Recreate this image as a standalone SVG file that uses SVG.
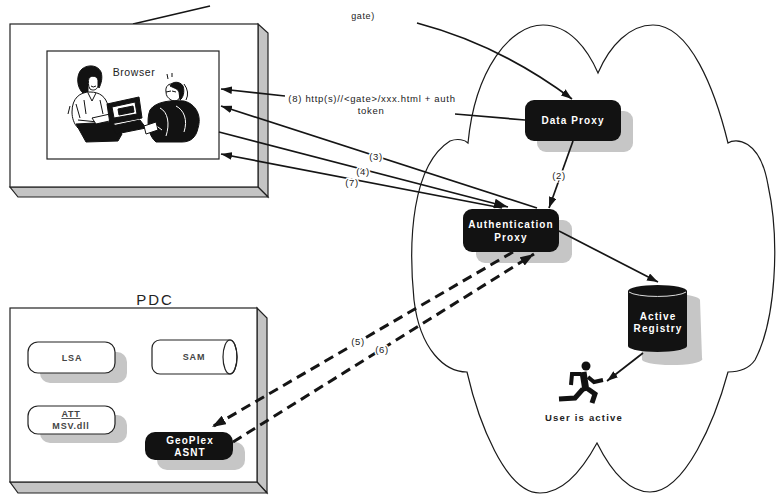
<svg xmlns="http://www.w3.org/2000/svg" width="776" height="497" viewBox="0 0 776 497">
  <defs>
    <style>
      .t { font-family: "Liberation Sans", Arial, sans-serif; fill: #222; }
      .lbl { font-size: 9.5px; letter-spacing: 0.7px; text-anchor: middle; stroke: #fff; stroke-width: 3px; paint-order: stroke; }
      .nodeTxt { font-size: 10px; font-weight: bold; fill: #fff; text-anchor: middle; letter-spacing: 1.1px; }
      .boxTxt { font-size: 9px; font-weight: bold; fill: #444; text-anchor: middle; letter-spacing: 0.8px; }
      .dark { fill: #121212; }
      .shadow { fill: #c6c6c6; }
      .face { fill: #fff; stroke: #222; stroke-width: 1.2; }
      .side { fill: #c4c4c4; stroke: #222; stroke-width: 1.2; }
      .conn { fill: none; stroke: #151515; stroke-width: 1.7; }
      .dash { fill: none; stroke: #151515; stroke-width: 3; stroke-dasharray: 10 6; }
    </style>
    <marker id="arrow" viewBox="0 0 10 7" refX="10" refY="3.5" markerWidth="11" markerHeight="8" markerUnits="userSpaceOnUse" orient="auto">
      <path d="M0,0 L10,3.5 L0,7 Z" fill="#151515"/>
    </marker>
    <marker id="arrowBig" viewBox="0 0 10 7" refX="10" refY="3.5" markerWidth="14" markerHeight="10" markerUnits="userSpaceOnUse" orient="auto">
      <path d="M0,0 L10,3.5 L0,7 Z" fill="#151515"/>
    </marker>
  </defs>

  <rect width="776" height="497" fill="#fff"/>

  <!-- network cloud -->
  <path id="cloud" fill="none" stroke="#1a1a1a" stroke-width="1.2"
        d="M468,143 C475,70 510,25 543,25 C570,25 588,50 598,73
           C610,45 630,25 653,25 C690,25 715,90 728,143
           C735,138 760,138 768,185 C780,240 776,320 755,360 C748,370 738,372 728,372
           C715,420 685,492 650,492 C625,492 608,465 597,443
           C585,465 565,493 540,493 C505,493 478,420 467,372
           C445,372 420,350 414,300 C408,240 412,165 450,141 C458,138 465,140 468,143 Z"/>

  <!-- client workstation -->
  <g id="client">
    <line x1="133" y1="24" x2="210" y2="6" stroke="#151515" stroke-width="1.6"/>
    <polygon class="side" points="258,24 268,33 268,197 258,187"/>
    <polygon class="side" points="10,187 258,187 268,197 18,197"/>
    <rect class="face" x="10" y="24" width="248" height="163"/>
    <rect class="face" x="47" y="51" width="172" height="108"/>
    <text class="t" x="134" y="76" font-size="10.5" text-anchor="middle" letter-spacing="0.6" fill="#333">Browser</text>
    <!-- two people at a computer -->
    <g id="browser-art" stroke="#111" stroke-width="1" stroke-linejoin="round">
      <!-- woman -->
      <path class="dark" d="M84,94 C76,88 76,74 82,69 C88,64 98,65 101,72 C103,78 101,84 99,88 L96,80 C93,76 89,76 88,80 L88,92 Z"/>
      <path fill="#fff" d="M89,78 C92,75 97,76 98,80 L98,86 C97,90 93,91 90,89 C88,86 88,81 89,78 Z"/>
      <path d="M91,86 Q93,88 96,86" fill="none"/>
      <path fill="#fff" d="M72,112 C72,98 80,92 90,92 C100,92 106,97 108,106 L112,124 L96,128 L78,128 C74,124 72,118 72,112 Z"/>
      <path d="M88,93 L92,101 L96,93" fill="none"/>
      <path d="M76,104 L80,118 M84,100 L86,114 M100,100 L103,114 M78,120 L98,122 M70,106 L68,114" fill="none"/>
      <path class="dark" d="M76,124 L112,122 L122,134 L118,141 L86,142 Z"/>
      <path fill="#fff" d="M92,118 L110,114 L114,120 L96,124 Z"/>
      <!-- monitor -->
      <polygon class="dark" points="107,104 139,97 142,118 110,124"/>
      <polygon fill="#fff" points="112,107 135,102 137,114 114,118"/>
      <polygon class="dark" points="118,109 133,106 134,112 119,115"/>
      <path class="dark" d="M112,126 L140,120 L146,128 L116,134 Z"/>
      <!-- man -->
      <path fill="#fff" d="M166,92 C165,86 169,83 174,84 C179,85 181,90 180,96 C179,101 175,102 171,100 C168,98 166,96 166,92 Z"/>
      <path class="dark" d="M170,86 C172,81 180,81 183,86 C185,92 183,98 180,100 L179,92 C178,89 174,88 170,86 Z"/>
      <path d="M166,92 L171,91 M172,91 L176,92" fill="none"/>
      <path d="M168,79 L167,74 M172,77 L172,73 M184,84 Q190,92 186,100" fill="none"/>
      <path class="dark" d="M150,110 C156,101 172,100 184,101 C196,104 202,116 198,128 C196,138 190,142 182,142 L156,142 C148,136 146,120 150,110 Z"/>
      <path d="M160,108 C168,112 170,124 166,136 M176,106 C184,110 188,120 184,132 M154,124 L162,130" fill="none" stroke="#fff" stroke-width="1"/>
      <path fill="#fff" d="M144,126 L156,122 L158,130 L146,134 Z"/>
    </g>
  </g>

  <!-- PDC server -->
  <g id="pdc">
    <text class="t" x="155" y="305" font-size="15" text-anchor="middle" letter-spacing="2" fill="#333">PDC</text>
    <polygon class="side" points="257,308 267,318 267,493 257,482"/>
    <polygon class="side" points="10,482 257,482 267,493 18,493"/>
    <rect class="face" x="10" y="308" width="247" height="174"/>
  </g>

  <g id="lsa">
    <rect class="shadow" x="40" y="352" width="87" height="31" rx="10"/>
    <rect class="face" x="28" y="342" width="87" height="31" rx="10"/>
    <text class="t boxTxt" x="72" y="361">LSA</text>
  </g>

  <g id="sam">
    <path class="face" d="M160,340 L230,340 A7,17 0 0 1 230,374 L160,374 A8,8 0 0 1 152,366 L152,348 A8,8 0 0 1 160,340 Z"/>
    <ellipse cx="230" cy="357" rx="7" ry="17" fill="none" stroke="#222" stroke-width="1.2"/>
    <text class="t boxTxt" x="194" y="360">SAM</text>
  </g>

  <g id="msv">
    <rect class="shadow" x="40" y="415" width="87" height="28" rx="10"/>
    <rect class="face" x="28" y="406" width="87" height="28" rx="10"/>
    <text class="t boxTxt" x="71" y="417" text-decoration="underline">ATT</text>
    <text class="t boxTxt" x="71" y="429">MSV.dll</text>
  </g>

  <g id="geoplex">
    <rect class="shadow" x="157" y="442" width="88" height="28" rx="10"/>
    <rect class="dark" x="145" y="432" width="88" height="28" rx="10"/>
    <text class="t nodeTxt" x="190" y="444">GeoPlex</text>
    <text class="t nodeTxt" x="190" y="456">ASNT</text>
  </g>

  <g id="data-proxy">
    <rect class="shadow" x="537" y="111" width="96" height="41" rx="9"/>
    <rect class="dark" x="525" y="100" width="96" height="41" rx="9"/>
    <text class="t nodeTxt" x="573" y="124">Data Proxy</text>
  </g>

  <g id="auth-proxy">
    <rect class="shadow" x="476" y="220" width="96" height="43" rx="9"/>
    <rect class="dark" x="463" y="209" width="96" height="43" rx="9"/>
    <text class="t nodeTxt" x="511" y="228">Authentication</text>
    <text class="t nodeTxt" x="511" y="241">Proxy</text>
  </g>

  <g id="active-registry">
    <path class="shadow" d="M640,300 A29.5,6 0 0 1 700,300 L702,358 A30,6 0 0 1 642,360 Z"/>
    <path class="dark" d="M628,291 A29.5,6 0 0 1 687,291 L687,346 A29.5,6 0 0 1 628,346 Z"/>
    <path d="M629,292 A29.5,6 0 0 0 686,292" fill="none" stroke="#ddd" stroke-width="1"/>
    <text class="t nodeTxt" x="658" y="320">Active</text>
    <text class="t nodeTxt" x="658" y="332">Registry</text>
  </g>

  <g id="user">
    <circle cx="586" cy="366" r="4.5" fill="#111"/>
    <g fill="none" stroke="#111" stroke-linejoin="miter">
      <line x1="583" y1="372" x2="586" y2="391" stroke-width="7"/>
      <polyline points="581,374 572,374 571,385" stroke-width="4"/>
      <polyline points="588,377 594,382 603,380" stroke-width="4"/>
      <polyline points="583,389 575,398 559,399" stroke-width="5"/>
      <polyline points="588,389 595,394 592,403" stroke-width="5"/>
    </g>
    <text class="t" x="584" y="421" font-size="9.5" font-weight="bold" text-anchor="middle" letter-spacing="1.2" fill="#444">User is active</text>
  </g>

  <!-- message flows -->
  <g id="connectors">
    <path class="conn" d="M417,23 Q500,45 572,99" marker-end="url(#arrow)"/>
    <line class="conn" x1="455" y1="114" x2="525" y2="120"/>
    <line class="conn" x1="285" y1="96" x2="221" y2="89" marker-end="url(#arrow)"/>
    <line class="conn" x1="537" y1="208" x2="221" y2="106" marker-end="url(#arrow)"/>
    <line class="conn" x1="219" y1="132" x2="508" y2="207" marker-end="url(#arrowBig)"/>
    <line class="conn" x1="502" y1="208" x2="221" y2="154" marker-end="url(#arrow)"/>
    <line class="conn" x1="573" y1="141" x2="549" y2="208" marker-end="url(#arrow)"/>
    <line class="conn" x1="559" y1="231" x2="658" y2="282" marker-end="url(#arrow)"/>
    <line class="conn" x1="643" y1="353" x2="607" y2="381" marker-end="url(#arrow)"/>
    <line class="dash" x1="513" y1="252" x2="212" y2="427" marker-end="url(#arrowBig)"/>
    <line class="dash" x1="233" y1="442" x2="534" y2="254" marker-end="url(#arrowBig)"/>

    <text class="t" x="363" y="19" font-size="9" text-anchor="middle" letter-spacing="0.6">gate)</text>
    <text class="t lbl" x="372" y="102">(8) http(s)//&lt;gate&gt;/xxx.html + auth</text>
    <text class="t lbl" x="371" y="114">token</text>
    <text class="t lbl" x="376" y="160">(3)</text>
    <text class="t lbl" x="363" y="175">(4)</text>
    <text class="t lbl" x="352" y="186">(7)</text>
    <text class="t lbl" x="559" y="179">(2)</text>
    <text class="t lbl" x="358" y="345">(5)</text>
    <text class="t lbl" x="382" y="353">(6)</text>
  </g>
</svg>
